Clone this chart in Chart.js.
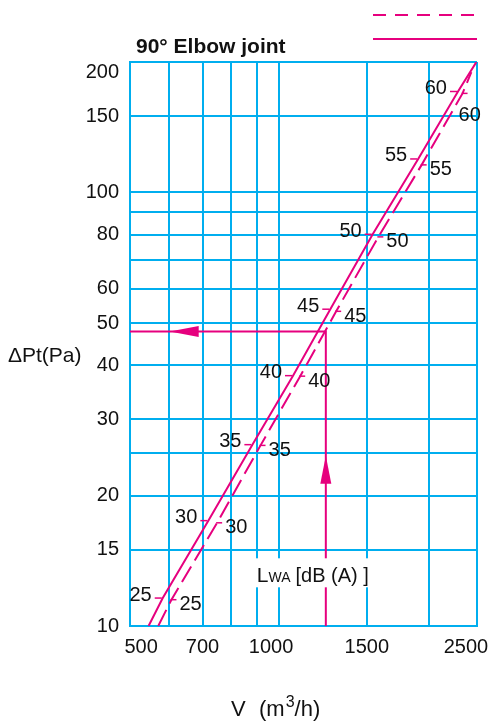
<!DOCTYPE html>
<html>
<head>
<meta charset="utf-8">
<script src="https://cdn.jsdelivr.net/npm/chart.js@4.4.1/dist/chart.umd.min.js"></script>
<style>
  html, body { margin: 0; padding: 0; background: #fff; overflow: hidden; }
  canvas { display: block; }
</style>
</head>
<body>
<canvas id="c" width="491" height="722"></canvas>
<script>
// grid lines and labelled ticks
const FLOW_GRID = [500, 600, 700, 800, 900, 1000, 1500, 2000, 2500];
const FLOW_LABELS = [500, 700, 1000, 1500, 2500];
const DP_GRID = [10, 15, 20, 25, 30, 40, 50, 60, 70, 80, 90, 100, 150, 200];
const DP_LABELS = [10, 15, 20, 30, 40, 50, 60, 80, 100, 150, 200];

// sound power level marks LWA dB(A), at points 1..8 of each curve
const LEVELS = [25, 30, 35, 40, 45, 50, 55, 60];

// solid curve (V m3/h, dPt Pa)
const SOLID_FLOW = [545, 582, 719, 882, 1065, 1266, 1541, 1903, 2289, 2493];
const SOLID_DP = [10, 11.6, 17.5, 26.2, 37.8, 53.8, 80.1, 119.5, 171, 200];

// dashed curve
const DASHED_FLOW = [570, 606, 749, 916, 1101, 1301, 1582, 1934, 2338, 2435];
const DASHED_DP = [10, 11.5, 17.3, 26.1, 37.7, 53.2, 79, 115.8, 169.3, 189.5];

// reading example
const EXAMPLE_FLOW = [500, 1240, 1240];
const EXAMPLE_DP = [47.8, 47.8, 10];
const ARROW_FLOW = [601, 1240];
const ARROW_DP = [47.8, 24.7];
const ARROW_DIR = ["left", "up"];
const LABEL_AT = [1240, 13.3];

const MAGENTA = "#e6007e";
const CYAN = "#00aeef";
const SANS = "'Liberation Sans', Arial, sans-serif";

const pts = (xs, ys) => xs.map((v, i) => ({ x: v, y: ys[i] }));

// end labels sit a little inside the frame, as in the print
function flowLabel(v) {
  if (!FLOW_LABELS.includes(v)) return "";
  if (v === 500) return "    500";
  if (v === 1000) return "1000   ";
  if (v === 2500) return "2500    ";
  return String(v);
}
function dpLabel(v) {
  if (!DP_LABELS.includes(v)) return "";
  return v === 200 ? ["", "200"] : String(v);
}

const decor = {
  id: "decor",
  afterDatasetsDraw(chart) {
    const { ctx, scales: { x, y } } = chart;
    const seg = (x1, y1, x2, y2) => {
      ctx.beginPath(); ctx.moveTo(x1, y1); ctx.lineTo(x2, y2); ctx.stroke();
    };
    ctx.save();
    ctx.strokeStyle = MAGENTA;
    ctx.lineWidth = 1.5;
    ctx.fillStyle = "#111";
    ctx.font = "20px " + SANS;
    ctx.textBaseline = "middle";
    LEVELS.forEach((lv, i) => {
      const sx = x.getPixelForValue(SOLID_FLOW[i + 1]);
      const sy = y.getPixelForValue(SOLID_DP[i + 1]);
      seg(sx - 8, sy, sx - 1, sy);
      ctx.textAlign = "right";
      ctx.fillText(String(lv), sx - 11, sy - 3);

      const dx = x.getPixelForValue(DASHED_FLOW[i + 1]);
      const dy = y.getPixelForValue(DASHED_DP[i + 1]);
      seg(dx - 1, dy, dx + 5, dy);
      ctx.textAlign = "left";
      if (i === LEVELS.length - 1) ctx.fillText(String(lv), dx - 4, dy + 22);
      else ctx.fillText(String(lv), dx + 8, dy + 5);
    });

    // arrow heads
    ctx.fillStyle = MAGENTA;
    ARROW_FLOW.forEach((v, i) => {
      const px = x.getPixelForValue(v), py = y.getPixelForValue(ARROW_DP[i]);
      ctx.beginPath();
      if (ARROW_DIR[i] === "left") {
        ctx.moveTo(px, py); ctx.lineTo(px + 29, py - 5.5); ctx.lineTo(px + 29, py + 5.5);
      } else {
        ctx.moveTo(px, py); ctx.lineTo(px - 5.5, py + 28); ctx.lineTo(px + 5.5, py + 28);
      }
      ctx.closePath(); ctx.fill();
    });

    // LWA label on white box
    const lx = x.getPixelForValue(LABEL_AT[0]), ly = y.getPixelForValue(LABEL_AT[1]);
    ctx.fillStyle = "#fff";
    ctx.fillRect(lx - 76, ly - 14, 125, 29);
    ctx.fillStyle = "#111";
    ctx.textAlign = "left";
    ctx.textBaseline = "alphabetic";
    let tx = lx - 69;
    const base = ly + 10;
    ctx.font = "21px " + SANS;
    ctx.fillText("L", tx, base);
    tx += ctx.measureText("L").width;
    ctx.font = "14px " + SANS;
    ctx.fillText("WA", tx, base);
    tx += ctx.measureText("WA").width + 5;
    ctx.font = "20px " + SANS;
    ctx.fillText("[dB (A) ]", tx, base);
    ctx.restore();
  },
  afterDraw(chart) {
    const { ctx, chartArea: a } = chart;
    ctx.save();
    // legend strokes
    ctx.strokeStyle = MAGENTA;
    ctx.lineWidth = 2;
    ctx.setLineDash([13, 9]);
    ctx.beginPath(); ctx.moveTo(a.right - 104, 15); ctx.lineTo(a.right, 15); ctx.stroke();
    ctx.setLineDash([]);
    ctx.beginPath(); ctx.moveTo(a.right - 104, 39); ctx.lineTo(a.right, 39); ctx.stroke();

    ctx.fillStyle = "#111";
    ctx.textBaseline = "alphabetic";
    ctx.textAlign = "left";
    ctx.font = "bold 21px " + SANS;
    ctx.fillText("90° Elbow joint", a.left + 6, 53);

    ctx.font = "21px " + SANS;
    ctx.fillText("ΔPt(Pa)", 8, 362);

    // x title with raised 3
    let tx = 231;
    const base = 716;
    ctx.font = "22px " + SANS;
    ctx.fillText("V", tx, base);
    tx = 259;
    ctx.fillText("(m", tx, base);
    tx += ctx.measureText("(m").width + 1;
    ctx.font = "16px " + SANS;
    ctx.fillText("3", tx, base - 9);
    tx += ctx.measureText("3").width;
    ctx.font = "22px " + SANS;
    ctx.fillText("/h)", tx, base);
    ctx.restore();
  }
};

new Chart(document.getElementById("c"), {
  type: "line",
  data: {
    datasets: [
      {
        label: "solid",
        data: pts(SOLID_FLOW, SOLID_DP),
        borderColor: MAGENTA,
        borderWidth: 2,
        pointRadius: 0,
        tension: 0,
      },
      {
        label: "dashed",
        data: pts(DASHED_FLOW, DASHED_DP),
        borderColor: MAGENTA,
        borderWidth: 2,
        borderDash: [18, 7],
        pointRadius: 0,
        tension: 0,
      },
      {
        label: "example",
        data: pts(EXAMPLE_FLOW, EXAMPLE_DP),
        borderColor: MAGENTA,
        borderWidth: 2,
        pointRadius: 0,
        tension: 0,
      },
    ],
  },
  options: {
    responsive: false,
    animation: false,
    parsing: false,
    events: [],
    layout: { autoPadding: false, padding: { top: 62, right: 14, left: 0, bottom: 0 } },
    plugins: { legend: { display: false }, tooltip: { enabled: false } },
    scales: {
      x: {
        type: "logarithmic",
        min: 500,
        max: 2500,
        afterBuildTicks: (s) => { s.ticks = FLOW_GRID.map((v) => ({ value: v })); },
        afterFit: (s) => { s.height = 96; s.paddingLeft = 0; s.paddingRight = 0; },
        grid: { color: CYAN, lineWidth: 2, drawTicks: false },
        border: { color: CYAN, width: 2 },
        ticks: {
          autoSkip: false,
          maxRotation: 0,
          padding: 9,
          color: "#111",
          font: { family: SANS, size: 20 },
          callback: flowLabel,
        },
      },
      y: {
        type: "logarithmic",
        min: 10,
        max: 200,
        afterBuildTicks: (s) => { s.ticks = DP_GRID.map((v) => ({ value: v })); },
        afterFit: (s) => { s.width = 130; s.paddingTop = 0; s.paddingBottom = 0; },
        grid: { color: CYAN, lineWidth: 2, drawTicks: false },
        border: { color: CYAN, width: 2 },
        ticks: {
          autoSkip: false,
          padding: 11,
          color: "#111",
          font: { family: SANS, size: 20, lineHeight: 1.0 },
          callback: dpLabel,
        },
      },
    },
  },
  plugins: [decor],
});
</script>
</body>
</html>
